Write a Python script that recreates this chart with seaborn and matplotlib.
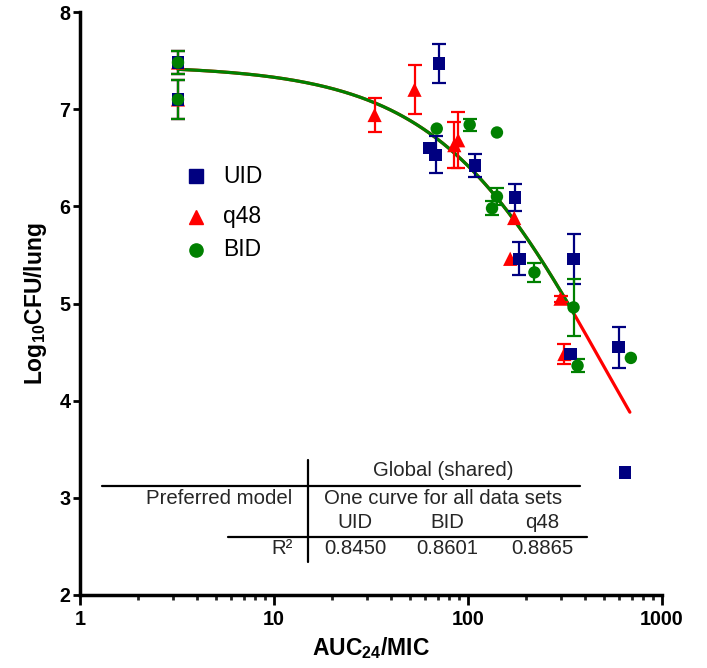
import numpy as np
import pandas as pd
import matplotlib
matplotlib.use("Agg")
import matplotlib.pyplot as plt
from matplotlib.lines import Line2D
from matplotlib.ticker import FixedLocator, LogLocator, NullFormatter
import seaborn as sns

# ---- observations: AUC24/MIC, log10 CFU/lung, SEM ----
uid_x = [3.2, 3.2, 63, 68, 71, 109, 175, 184, 337, 350, 598, 643]
uid_y = [7.48, 7.10, 6.60, 6.53, 7.47, 6.42, 6.09, 5.46, 4.48, 5.46, 4.55, 3.26]
uid_err = [0.12, 0.20, 0.0, 0.19, 0.20, 0.12, 0.14, 0.17, 0.0, 0.26, 0.21, 0.0]

q48_x = [3.2, 3.2, 33, 53, 85, 89, 165, 173, 300, 314]
q48_y = [7.48, 7.10, 6.94, 7.20, 6.63, 6.68, 5.46, 5.88, 5.05, 4.48]
q48_err = [0.12, 0.20, 0.17, 0.25, 0.24, 0.29, 0.0, 0.0, 0.03, 0.10]

bid_x = [3.2, 3.2, 69, 102, 133, 141, 141, 220, 350, 367, 691]
bid_y = [7.48, 7.10, 6.80, 6.84, 5.98, 6.10, 6.76, 5.32, 4.96, 4.36, 4.44]
bid_err = [0.12, 0.20, 0.0, 0.06, 0.07, 0.09, 0.0, 0.10, 0.29, 0.07, 0.0]

# ---- shared sigmoid Emax fit ----
fit_e0 = 7.45
fit_emax = 6.16
fit_ec50 = 496.0
fit_hill = 1.0
fit_range_q48 = (3.2, 683)
fit_range_bid = (3.2, 350)

# ---- goodness-of-fit table ----
table_groups = ["UID", "BID", "q48"]
table_r2 = ["0.8450", "0.8601", "0.8865"]

colors = {"UID": "#000080", "q48": "#FF0000", "BID": "#008000"}
markers = {"UID": "s", "q48": "^", "BID": "o"}
marker_area = {"UID": 80, "q48": 105, "BID": 80}

frames = []
for name, xs, ys, es in [("q48", q48_x, q48_y, q48_err),
                         ("UID", uid_x, uid_y, uid_err),
                         ("BID", bid_x, bid_y, bid_err)]:
    frames.append(pd.DataFrame({"auc_mic": xs, "cfu": ys, "err": es, "regimen": name}))
df = pd.concat(frames, ignore_index=True)

sns.set_theme(style="ticks")
plt.rcParams["font.family"] = ["Liberation Sans", "DejaVu Sans"]
plt.rcParams["mathtext.fontset"] = "custom"
plt.rcParams["mathtext.rm"] = "Liberation Sans"
plt.rcParams["mathtext.bf"] = "Liberation Sans:bold"

W, H = 707, 668
fig = plt.figure(figsize=(W / 100, H / 100), dpi=100)
ax = fig.add_axes([80 / W, 1 - 595 / H, (662 - 80) / W, (595 - 12) / H])


def model(x):
    xh = np.power(x, fit_hill)
    return fit_e0 - fit_emax * xh / (fit_ec50 ** fit_hill + xh)


# fitted curves (BID drawn over q48)
xr = np.geomspace(*fit_range_q48, 300)
ax.plot(xr, model(xr), color=colors["q48"], lw=2.3, zorder=2, solid_capstyle="round")
xg = np.geomspace(*fit_range_bid, 300)
ax.plot(xg, model(xg), color=colors["BID"], lw=2.3, zorder=2.1, solid_capstyle="round")

# error bars
for i, name in enumerate(["q48", "UID", "BID"]):
    sub = df[(df["regimen"] == name) & (df["err"] > 0)]
    ax.errorbar(sub["auc_mic"], sub["cfu"], yerr=sub["err"], fmt="none",
                ecolor=colors[name], elinewidth=1.6, capsize=5, capthick=1.6,
                zorder=3 + i)

# points
sns.scatterplot(data=df, x="auc_mic", y="cfu", hue="regimen", style="regimen",
                size="regimen", sizes=marker_area,
                palette=colors, markers=markers, linewidth=0,
                legend=False, ax=ax, zorder=6, clip_on=False)

ax.set_xscale("log")
ax.set_xlim(1, 1000)
ax.set_ylim(2, 8)
ax.xaxis.set_major_locator(FixedLocator([1, 10, 100, 1000]))
ax.set_xticklabels(["1", "10", "100", "1000"])
ax.xaxis.set_minor_locator(LogLocator(base=10, subs=np.arange(2, 10)))
ax.xaxis.set_minor_formatter(NullFormatter())
ax.set_yticks([2, 3, 4, 5, 6, 7, 8])
ax.set_yticklabels(["2", "3", "4", "5", "6", "7", "8"])

for s in ["top", "right"]:
    ax.spines[s].set_visible(False)
for s in ["left", "bottom"]:
    ax.spines[s].set_linewidth(2.5)
    ax.spines[s].set_color("black")

ax.tick_params(axis="x", which="major", length=7, width=2, direction="out",
               pad=4, labelsize=14.2, colors="black")
ax.tick_params(axis="x", which="minor", length=3.6, width=2, direction="out")
ax.tick_params(axis="y", which="major", length=5, width=2, direction="out",
               pad=2, labelsize=14.2, colors="black")
for lab in ax.get_xticklabels() + ax.get_yticklabels():
    lab.set_fontweight("bold")

ax.set_xlabel(r"AUC$_{\mathbf{24}}$/MIC", fontsize=16.5, fontweight="bold",
              color="black", va="center")
ax.set_ylabel(r"Log$_{\mathbf{10}}$CFU/lung", fontsize=16.5, fontweight="bold",
              color="black", va="center")
ax.xaxis.set_label_coords(0.5, (595 - 648) / 583)
ax.yaxis.set_label_coords((36 - 80) / 582, 0.5)


def fpos(px, py):
    return px / W, 1 - py / H


# legend
for name, py in [("UID", 176), ("q48", 217), ("BID", 250)]:
    fig.add_artist(Line2D([fpos(196, py)[0]], [fpos(196, py)[1]],
                          marker=markers[name], color=colors[name],
                          markersize=9.5, linestyle="none",
                          transform=fig.transFigure))
    fig.text(*fpos(223, py), name, fontsize=16.5, va="center", ha="left",
             color="black")

# results table
tfs = 14.7
fig.text(*fpos(443, 470), "Global (shared)", fontsize=tfs, ha="center", va="center")
fig.text(*fpos(292, 498), "Preferred model", fontsize=tfs, ha="right", va="center")
fig.text(*fpos(443, 498), "One curve for all data sets", fontsize=tfs,
         ha="center", va="center")
for cx, g, r in zip([355, 447, 542], table_groups, table_r2):
    fig.text(*fpos(cx, 523), g, fontsize=tfs, ha="center", va="center")
    fig.text(*fpos(cx, 548), r, fontsize=tfs, ha="center", va="center")
fig.text(*fpos(293, 548), "R²", fontsize=tfs, ha="right", va="center")


def fline(x0, y0, x1, y1):
    (a, b), (c, d) = fpos(x0, y0), fpos(x1, y1)
    fig.add_artist(Line2D([a, c], [b, d], color="black", lw=1.6,
                          transform=fig.transFigure))


fline(102, 486, 580, 486)
fline(228, 537, 587, 537)
fline(308, 460, 308, 562)

fig.savefig("out.png", dpi=100)
